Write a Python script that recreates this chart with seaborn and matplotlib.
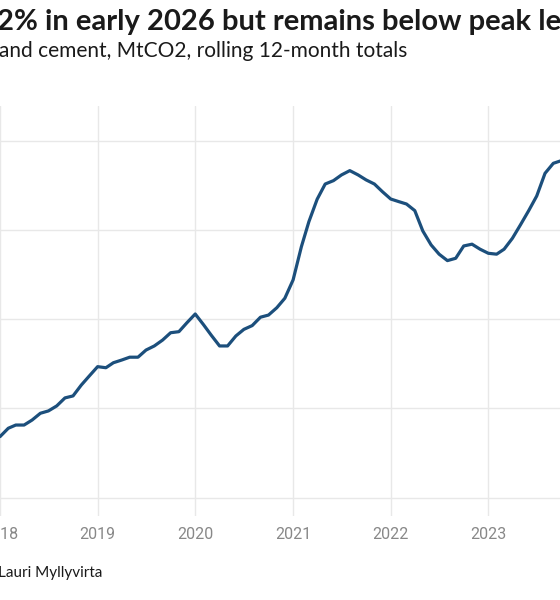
import pandas as pd
import matplotlib.pyplot as plt
import matplotlib.dates as mdates
import seaborn as sns

# monthly rolling 12-month totals, MtCO2
months = pd.date_range("2018-01-01", "2023-10-01", freq="MS")
emissions = [
    10342, 10389, 10407, 10407, 10435, 10473, 10486, 10514, 10559, 10570, 10631, 10682,
    10734, 10728, 10756, 10771, 10787, 10787, 10827, 10850, 10883, 10924, 10930, 10980,
    11029, 10969, 10910, 10850, 10850, 10906, 10943, 10964, 11011, 11023, 11064, 11117,
    11220, 11406, 11546, 11672, 11757, 11776, 11808, 11832, 11808, 11780, 11757, 11714,
    11673, 11658, 11645, 11608, 11494, 11416, 11364, 11328, 11341, 11410, 11420, 11392,
    11369, 11364, 11392, 11453, 11528, 11608, 11690, 11817, 11873, 11888,
]
year_ticks = pd.date_range("2018-01-01", "2023-01-01", freq="YS")
y_ticks = [10000, 10500, 11000, 11500, 12000]

title = "2% in early 2026 but remains below peak levels"
subtitle = "and cement, MtCO2, rolling 12-month totals"
footer = "Lauri Myllyvirta"

df = pd.DataFrame({"month": months, "emissions": emissions})

sns.set_theme(style="white")
W, H = 560, 600
fig = plt.figure(figsize=(W / 100, H / 100), dpi=100)
ax = fig.add_axes([0, 1 - 516 / H, 1, (516 - 106) / H])

sns.lineplot(data=df, x="month", y="emissions", color="#1c4f7c", linewidth=2.3, ax=ax)

ax.set_xlim(pd.Timestamp("2018-01-01"), pd.Timestamp("2023-09-26"))
ax.set_ylim(9897.5, 12194)
ax.set_xticks(year_ticks)
ax.xaxis.set_major_formatter(mdates.DateFormatter("%Y"))
ax.set_yticks(y_ticks)
ax.set_yticklabels([])
ax.grid(True, color="#e8e8e8", linewidth=1)
ax.set_axisbelow(True)
for s in ax.spines.values():
    s.set_visible(False)
ax.tick_params(axis="both", length=0)
ax.tick_params(axis="x", pad=8, labelsize=11.5, labelcolor="#888888")
for lab in ax.get_xticklabels():
    lab.set_fontfamily("Roboto")
ax.set_xlabel("")
ax.set_ylabel("")

fig.text(-3 / W, 1 - 30 / H, title, fontsize=21, fontweight="bold",
         family="Lato", color="#1a1a1a", va="baseline", ha="left")
fig.text(-1 / W, 1 - 57 / H, subtitle, fontsize=15, family="Lato",
         color="#1a1a1a", va="baseline", ha="left")
fig.text(-2 / W, 1 - 577 / H, footer, fontsize=11, family="Lato",
         color="#1a1a1a", va="baseline", ha="left")

fig.savefig("out.png", dpi=100)
